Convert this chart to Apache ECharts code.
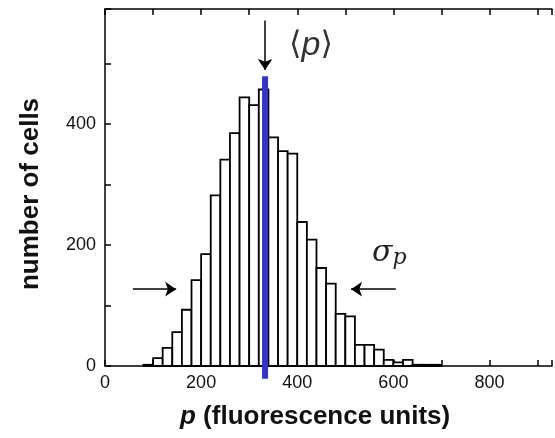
<!DOCTYPE html>
<html>

<head>
    <title>histogram</title>
    <meta http-equiv="Content-Type" content="text/html; charset=utf-8">
    <style>
        html, body { margin: 0; padding: 0; background: #fff; }
    </style>
</head>

<body>
    <div id="main" style="width: 555px;height:438px;"></div>
    <script src="https://cdn.jsdelivr.net/npm/echarts@6/dist/echarts.min.js"></script>
    <script>
        // bins of width 20, left edges
        var binStarts = [80, 100, 120, 140, 160, 180, 200, 220, 240, 260, 280, 300, 320, 340, 360, 380,
                         400, 420, 440, 460, 480, 500, 520, 540, 560, 580, 600, 620, 640, 660, 680];
        var binWidth = 20;
        var counts = [2, 13, 30, 56, 93, 142, 185, 282, 341, 385, 444, 431, 457, 378, 355, 351,
                      238, 209, 162, 136, 86, 82, 35, 35, 27, 10, 6, 10, 2, 2, 2];
        var meanP = 333;
        var meanLine = [-21, 479];     // vertical extent of the blue line
        // sigma arrows (x from, x to, y)
        var sigmaLeft = [58, 148, 127];
        var sigmaRight = [605, 512, 127];
        var meanArrow = [571, 489];
        var xTicks = [0, 200, 400, 600, 800];
        var yTicks = [0, 200, 400];

        var myChart = echarts.init(document.getElementById('main'));

        var histData = binStarts.map(function (s, i) {
            return [s, s + binWidth, counts[i]];
        });

        var tickFont = { fontFamily: 'Liberation Sans', fontSize: 18, color: '#111' };

        var option = {
            animation: false,
            // the picture is cropped at p = 930, frame's right side not shown
            grid: { left: 105, right: 0, top: 9, bottom: 72 },
            xAxis: [{
                type: 'value', min: 0, max: 930, interval: 100,
                axisLine: { lineStyle: { color: '#000', width: 1.5 } },
                axisTick: { inside: true, length: 6, lineStyle: { color: '#000', width: 1.5 } },
                splitLine: { show: false },
                axisLabel: Object.assign({
                    margin: 8,
                    formatter: function (v) { return xTicks.indexOf(v) >= 0 ? String(v) : ''; }
                }, tickFont)
            }, {
                type: 'value', position: 'top', min: 0, max: 930, interval: 100,
                axisLine: { lineStyle: { color: '#000', width: 1.5 } },
                axisTick: { inside: true, length: 6, lineStyle: { color: '#000', width: 1.5 } },
                splitLine: { show: false },
                axisLabel: { show: false }
            }],
            yAxis: {
                type: 'value', min: 0, max: 590, interval: 100,
                axisLine: { show: true, lineStyle: { color: '#000', width: 1.5 } },
                axisTick: { show: true, inside: true, length: 6, lineStyle: { color: '#000', width: 1.5 } },
                splitLine: { show: false },
                axisLabel: Object.assign({
                    margin: 9,
                    formatter: function (v) { return yTicks.indexOf(v) >= 0 ? String(v) : ''; }
                }, tickFont)
            },
            series: [{
                type: 'custom',
                data: histData,
                encode: { x: [0, 1], y: 2 },
                renderItem: function (params, api) {
                    var p0 = api.coord([api.value(0), 0]);
                    var p1 = api.coord([api.value(1), api.value(2)]);
                    return {
                        type: 'rect',
                        shape: { x: p0[0], y: p1[1], width: p1[0] - p0[0], height: p0[1] - p1[1] },
                        style: { fill: '#fff', stroke: '#000', lineWidth: 1.8 }
                    };
                },
                z: 2
            }, {
                type: 'line',
                data: [[meanP, meanLine[0]], [meanP, meanLine[1]]],
                clip: false,
                symbol: 'none',
                lineStyle: { color: '#3434c8', width: 6, cap: 'butt' },
                z: 5,
                markLine: {
                    silent: true,
                    symbol: ['none', 'arrow'],
                    symbolSize: 11,
                    label: { show: false },
                    lineStyle: { color: '#000', width: 1.5, type: 'solid' },
                    data: [
                        [{ coord: [sigmaLeft[0], sigmaLeft[2]] }, { coord: [sigmaLeft[1], sigmaLeft[2]] }],
                        [{ coord: [sigmaRight[0], sigmaRight[2]] }, { coord: [sigmaRight[1], sigmaRight[2]] }],
                        [{ coord: [meanP, meanArrow[0]] }, { coord: [meanP, meanArrow[1]] }]
                    ]
                }
            }],
            graphic: [{
                type: 'text', left: 289, top: 29,
                style: {
                    text: '{b|⟨}{i|p}{b|⟩}',
                    rich: {
                        b: { fontFamily: 'DejaVu Sans', fontSize: 32, fill: '#333' },
                        i: { fontFamily: 'Liberation Sans', fontStyle: 'italic', fontSize: 34, fill: '#333' }
                    }
                }
            }, {
                type: 'text', left: 372, top: 238,
                style: {
                    text: '{s|σ}{p|p}',
                    rich: {
                        s: { fontFamily: 'DejaVu Serif', fontStyle: 'italic', fontSize: 30, fill: '#222' },
                        p: { fontFamily: 'DejaVu Serif', fontStyle: 'italic', fontSize: 22, fill: '#222', padding: [10, 0, 0, 0] }
                    }
                }
            }, {
                type: 'text', left: 180, top: 404,
                style: {
                    text: '{i|p} (fluorescence units)',
                    fontFamily: 'Liberation Sans', fontWeight: 'bold', fontSize: 26, fill: '#111',
                    rich: {
                        i: { fontFamily: 'Liberation Sans', fontWeight: 'bold', fontStyle: 'italic', fontSize: 26, fill: '#111' }
                    }
                }
            }, {
                type: 'text', x: 31, y: 194, rotation: Math.PI / 2,
                style: {
                    text: 'number of cells',
                    fontFamily: 'Liberation Sans', fontWeight: 'bold', fontSize: 26, fill: '#111',
                    align: 'center', verticalAlign: 'middle'
                }
            }]
        };
        myChart.setOption(option);
    </script>
</body>
</html>
